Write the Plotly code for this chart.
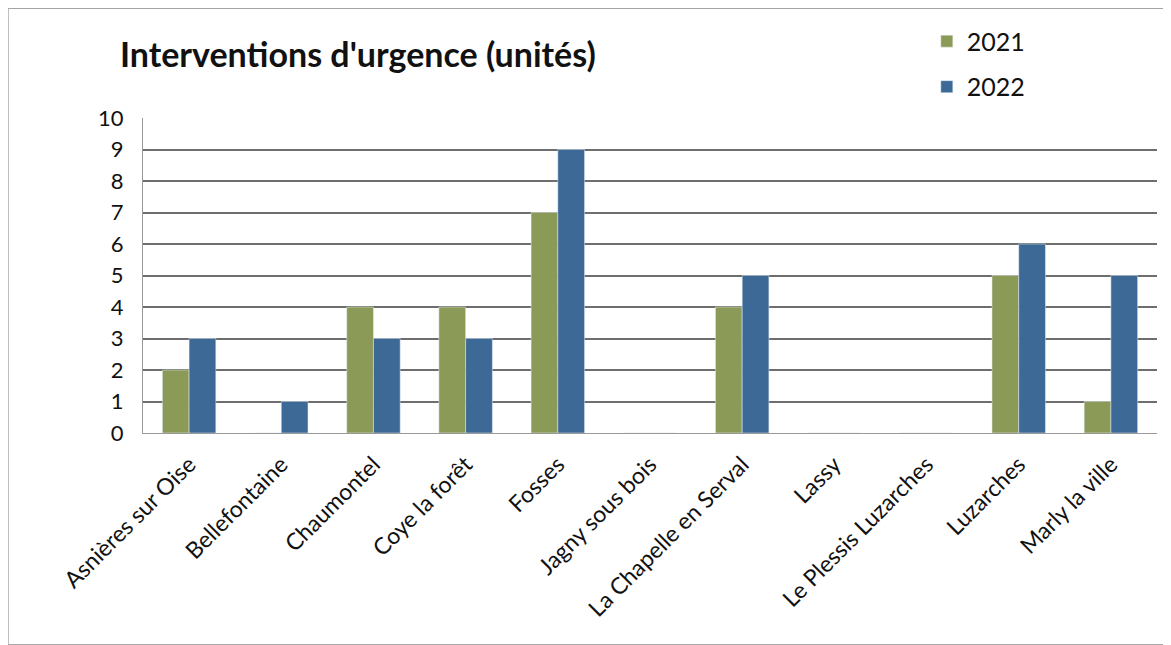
import plotly.graph_objects as go

categories = ["Asnières sur Oise", "Bellefontaine", "Chaumontel", "Coye la forêt", "Fosses",
              "Jagny sous bois", "La Chapelle en Serval", "Lassy", "Le Plessis Luzarches",
              "Luzarches", "Marly la ville"]
v2021 = [2, 0, 4, 4, 7, 0, 4, 0, 0, 5, 1]
v2022 = [3, 1, 3, 3, 9, 0, 5, 0, 0, 6, 5]
yticks = list(range(0, 11))

fig = go.Figure()
fig.add_trace(go.Bar(name="2021", x=categories, y=v2021, marker_color="#8c9a57", legendgroup="a"))
fig.add_trace(go.Bar(name="2022", x=categories, y=v2022, marker_color="#3d6996", legendgroup="b"))

fig.update_layout(
    width=1171, height=645,
    margin=dict(l=135, r=22, t=109, b=220),
    paper_bgcolor="white", plot_bgcolor="white",
    barmode="group", bargap=0.42, bargroupgap=0,
    font=dict(family="Lato, Liberation Sans, sans-serif", color="#111"),
    title=dict(text="<b>Interventions d'urgence (unités)</b>", xref="container", x=0.0956, xanchor="left",
               y=0.927, yanchor="middle", font=dict(size=34, color="#111")),
    legend=dict(x=0.773, y=1.312, xanchor="left", yanchor="top", orientation="v",
                font=dict(size=25), tracegroupgap=10, itemwidth=30, traceorder="grouped",
                bgcolor="rgba(0,0,0,0)"),
    showlegend=True,
    shapes=[dict(type="rect", xref="paper", yref="paper", x0=-0.133, x1=1.008, y0=-0.672, y1=1.348,
                 line=dict(color="#999", width=1))],
)
fig.update_yaxes(range=[0, 10], tickvals=yticks, showgrid=True, gridcolor="#6e6e6e", gridwidth=2,
                 zeroline=False, showline=True, linecolor="#999", linewidth=1, automargin=False,
                 tickfont=dict(size=22), ticks="", ticklen=0, ticklabelstandoff=14)
fig.update_xaxes(tickangle=-45, tickfont=dict(size=23), showline=True, linecolor="#999",
                 linewidth=1, mirror=False, automargin=False, ticklabelstandoff=8)
fig.write_html("out.html")
